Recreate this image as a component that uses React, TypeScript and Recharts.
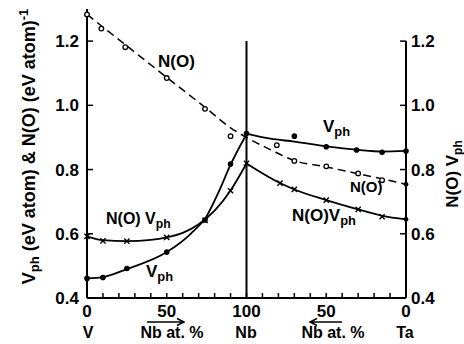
import React from 'react';
import { ComposedChart, Line, Scatter, XAxis, YAxis, ReferenceLine } from 'recharts';

const FONT = '"Liberation Sans", Arial, Helvetica, sans-serif';

// x: 0 = V, 100 = Nb, 200 = Ta  (Nb at.% : 0..100..0)
const xTicks = [0, 10, 20, 30, 40, 50, 60, 70, 80, 90, 100, 110, 120, 130, 140, 150, 160, 170, 180, 190, 200];
const xLabelPos = [0, 50, 100, 150, 200];
const xLabelText = ['0', '50', '100', '50', '0'];
const yTicks = [0.4, 0.6, 0.8, 1.0, 1.2];
const yTickText = ['0.4', '0.6', '0.8', '1.0', '1.2'];

// N(0) - dashed curve and open-circle data
const n0Curve: [number, number][] = [
  [0, 1.283], [25, 1.185], [50, 1.087], [75, 0.99], [90, 0.93], [100, 0.9],
  [115, 0.862], [130, 0.828], [150, 0.808], [170, 0.787], [185, 0.771], [200, 0.754],
];
const n0Points: [number, number][] = [
  [0, 1.283], [9, 1.239], [24, 1.181], [50, 1.085], [74, 0.989], [90, 0.904],
  [119, 0.876], [130, 0.827], [150, 0.81], [170, 0.788], [185, 0.767],
];
const n0End: [number, number][] = [[200, 0.754]];

// Vph - solid curves and filled dots
const vphLeftCurve: [number, number][] = [
  [0, 0.461], [10, 0.465], [25, 0.49], [50, 0.543], [65, 0.6], [75, 0.655], [83, 0.735], [90, 0.815], [100, 0.91],
];
const vphRightCurve: [number, number][] = [
  [100, 0.912], [115, 0.896], [130, 0.887], [150, 0.872], [170, 0.861], [185, 0.856], [200, 0.858],
];
const vphPoints: [number, number][] = [
  [0, 0.461], [10, 0.464], [25, 0.492], [50, 0.543], [74, 0.643], [90, 0.817], [100, 0.912],
  [130, 0.904], [150, 0.871], [169, 0.861], [185, 0.854], [200, 0.858],
];

// N(0)Vph - solid curves and x markers
const nvLeftCurve: [number, number][] = [
  [0, 0.592], [10, 0.58], [25, 0.577], [40, 0.581], [50, 0.589], [60, 0.603], [70, 0.63], [80, 0.672], [90, 0.735], [100, 0.819],
];
const nvRightCurve: [number, number][] = [
  [100, 0.819], [121, 0.758], [130, 0.738], [150, 0.705], [170, 0.676], [185, 0.656], [200, 0.645],
];
const nvPoints: [number, number][] = [
  [0, 0.592], [10, 0.578], [25, 0.577], [50, 0.589], [74, 0.642], [90, 0.734], [100, 0.819],
  [121, 0.758], [130, 0.738], [150, 0.705], [170, 0.676], [185, 0.653],
];
const nvEnd: [number, number][] = [[200, 0.645]];

const toData = (a: [number, number][]) => a.map(([x, y]) => ({ x, y }));

const OpenCircle = (p: any) => (
  <circle cx={p.cx} cy={p.cy} r={2.3} fill="#fff" stroke="#000" strokeWidth={1.3} />
);
const FilledDot = (p: any) => <circle cx={p.cx} cy={p.cy} r={2.8} fill="#000" />;
const SmallDot = (p: any) => <circle cx={p.cx} cy={p.cy} r={2.4} fill="#000" />;
const Cross = (p: any) => {
  const s = 2.6;
  return (
    <path
      d={`M${p.cx - s},${p.cy - s}L${p.cx + s},${p.cy + s}M${p.cx - s},${p.cy + s}L${p.cx + s},${p.cy - s}`}
      stroke="#000"
      strokeWidth={1.4}
    />
  );
};

const XTick = (p: any) => {
  const v = p.payload.value;
  const i = xLabelPos.indexOf(v);
  return (
    <g>
      <line x1={p.x} y1={p.y} x2={p.x} y2={p.y - 5} stroke="#000" strokeWidth={1.5} />
      {i >= 0 && (
        <text x={p.x} y={p.y + 18.5} textAnchor="middle" fontFamily={FONT} fontWeight="bold" fontSize={17} fill="#000">
          {xLabelText[i]}
        </text>
      )}
    </g>
  );
};

const LeftTick = (p: any) => {
  const i = yTicks.indexOf(p.payload.value);
  return (
    <g>
      <line x1={p.x} y1={p.y} x2={p.x + 6} y2={p.y} stroke="#000" strokeWidth={1.5} />
      <text x={p.x - 8} y={p.y + 6} textAnchor="end" fontFamily={FONT} fontWeight="bold" fontSize={17} fill="#000">
        {yTickText[i]}
      </text>
    </g>
  );
};

const RightTick = (p: any) => {
  const i = yTicks.indexOf(p.payload.value);
  return (
    <g>
      <line x1={p.x} y1={p.y} x2={p.x - 6} y2={p.y} stroke="#000" strokeWidth={1.5} />
      <text x={p.x + 5} y={p.y + 6} textAnchor="start" fontFamily={FONT} fontWeight="bold" fontSize={17} fill="#000">
        {yTickText[i]}
      </text>
    </g>
  );
};

const SubLabel = ({ x, y, main, sub, size = 17 }: any) => (
  <text x={x} y={y} fontFamily={FONT} fontWeight="bold" fontSize={size} fill="#000">
    {main}
    <tspan dy={4} fontSize={size * 0.76}>{sub}</tspan>
  </text>
);

const Plain = ({ x, y, text, size = 17, anchor = 'start' }: any) => (
  <text x={x} y={y} fontFamily={FONT} fontWeight="bold" fontSize={size} fill="#000" textAnchor={anchor}>
    {text}
  </text>
);

export default function App() {
  return (
    <div style={{ position: 'absolute', left: 0, top: 0, width: 464, height: 344, background: '#fff' }}>
      <ComposedChart width={464} height={344} margin={{ top: 9, right: 0, bottom: 0, left: 0 }}>
        <XAxis
          dataKey="x"
          type="number"
          domain={[0, 200]}
          ticks={xTicks}
          interval={0}
          tickSize={0}
          tickMargin={0}
          tick={<XTick />}
          height={46}
          axisLine={{ stroke: '#000', strokeWidth: 2 }}
          tickLine={false}
        />
        <YAxis
          yAxisId="left"
          dataKey="y"
          type="number"
          domain={[0.4, 1.3]}
          ticks={yTicks}
          interval={0}
          tickSize={0}
          tickMargin={0}
          tick={<LeftTick />}
          width={87}
          axisLine={{ stroke: '#000', strokeWidth: 2 }}
          tickLine={false}
        />
        <YAxis
          yAxisId="right"
          orientation="right"
          dataKey="y"
          type="number"
          domain={[0.4, 1.3]}
          ticks={yTicks}
          interval={0}
          tickSize={0}
          tickMargin={0}
          tick={<RightTick />}
          width={58}
          axisLine={false}
          tickLine={false}
        />
        <ReferenceLine yAxisId="left" segment={[{ x: 100, y: 0.4 }, { x: 100, y: 1.2 }]} stroke="#000" strokeWidth={2} />
        <ReferenceLine yAxisId="right" segment={[{ x: 200, y: 0.4 }, { x: 200, y: 1.2 }]} stroke="#000" strokeWidth={2} />

        <Line yAxisId="left" data={toData(n0Curve)} dataKey="y" type="monotone" stroke="#000" strokeWidth={1.5} strokeDasharray="8 5" dot={false} isAnimationActive={false} />
        <Line yAxisId="left" data={toData(vphLeftCurve)} dataKey="y" type="monotone" stroke="#000" strokeWidth={1.8} dot={false} isAnimationActive={false} />
        <Line yAxisId="left" data={toData(vphRightCurve)} dataKey="y" type="monotone" stroke="#000" strokeWidth={1.8} dot={false} isAnimationActive={false} />
        <Line yAxisId="left" data={toData(nvLeftCurve)} dataKey="y" type="monotone" stroke="#000" strokeWidth={1.8} dot={false} isAnimationActive={false} />
        <Line yAxisId="left" data={toData(nvRightCurve)} dataKey="y" type="monotone" stroke="#000" strokeWidth={1.8} dot={false} isAnimationActive={false} />

        <Scatter yAxisId="left" data={toData(n0Points)} dataKey="y" shape={OpenCircle} isAnimationActive={false} />
        <Scatter yAxisId="left" data={toData(vphPoints)} dataKey="y" shape={FilledDot} isAnimationActive={false} />
        <Scatter yAxisId="left" data={toData(nvPoints)} dataKey="y" shape={Cross} isAnimationActive={false} />
        <Scatter yAxisId="right" data={toData(n0End)} dataKey="y" shape={SmallDot} isAnimationActive={false} />
        <Scatter yAxisId="right" data={toData(nvEnd)} dataKey="y" shape={SmallDot} isAnimationActive={false} />

        {/* curve annotations */}
        <Plain x={158} y={67} text="N(O)" />
        <SubLabel x={323} y={132} main="V" sub="ph" />
        <Plain x={350} y={192} text="N(O)" size={15} />
        <SubLabel x={292} y={221} main="N(O)V" sub="ph" />
        <SubLabel x={106} y={224} main="N(O) V" sub="ph" size={16} />
        <SubLabel x={146} y={277} main="V" sub="ph" />

        {/* composition labels under the axis */}
        <Plain x={88} y={338} text="V" size={16} anchor="middle" />
        <Plain x={172} y={338} text="Nb at. %" size={16} anchor="middle" />
        <Plain x={246} y={338} text="Nb" size={16} anchor="middle" />
        <Plain x={333} y={338} text="Nb at. %" size={16} anchor="middle" />
        <Plain x={405} y={338} text="Ta" size={16} anchor="middle" />
        <path d="M147,322 H183 M177,318.5 L184,322 L177,325.5" stroke="#000" strokeWidth={1.5} fill="none" />
        <path d="M342,322 H311 M317,318.5 L310,322 L317,325.5" stroke="#000" strokeWidth={1.5} fill="none" />

        {/* axis titles */}
        <text transform="translate(35,146.5) rotate(-90)" textAnchor="middle" fontFamily={FONT} fontWeight="bold" fontSize={18} fill="#000">
          V<tspan dy={4} fontSize={13}>ph</tspan>
          <tspan dy={-4}> (eV atom) &amp; N(O) (eV atom)</tspan>
          <tspan dy={-7} fontSize={13}>-1</tspan>
        </text>
        <text transform="translate(458,174) rotate(-90)" textAnchor="middle" fontFamily={FONT} fontWeight="bold" fontSize={17} fill="#000">
          N(O) V<tspan dy={4} fontSize={12}>ph</tspan>
        </text>
      </ComposedChart>
    </div>
  );
}
